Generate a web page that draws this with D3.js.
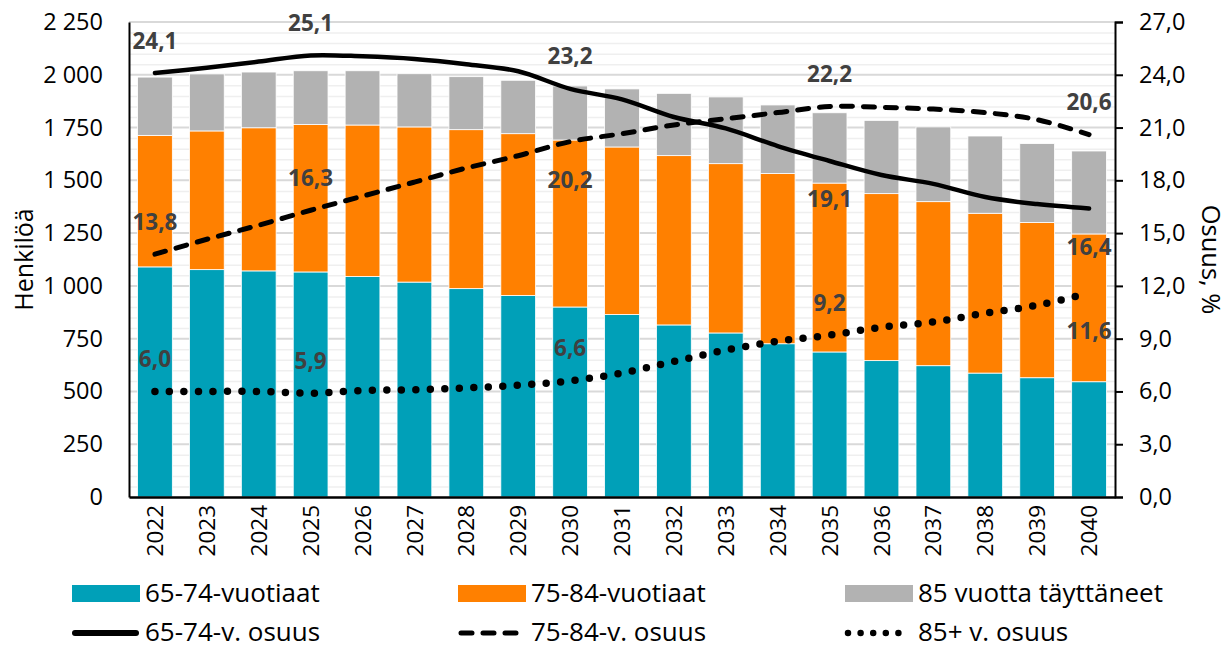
<!DOCTYPE html>
<html lang="fi">
<head>
<meta charset="UTF-8" />
<title>Ikääntyneet 2022–2040</title>
<script src="https://d3js.org/d3.v7.min.js"></script>
<style>
  body { margin: 0; background: #fff; }
  svg { font-family: "Open Sans", sans-serif; }
</style>
</head>
<body>
<svg width="1231" height="650"></svg>
<script>
// data
const years = [2022, 2023, 2024, 2025, 2026, 2027, 2028, 2029, 2030, 2031,
               2032, 2033, 2034, 2035, 2036, 2037, 2038, 2039, 2040];
const age6574 = [1090, 1077, 1071, 1066, 1044, 1018, 987, 954, 900, 864,
                 815, 777, 726, 687, 646, 622, 587, 565, 546];
const age7584 = [623, 657, 678, 698, 718, 735, 753, 767, 791, 794,
                 802, 802, 806, 800, 791, 777, 757, 735, 700];
const age85 = [276, 270, 264, 255, 257, 252, 251, 253, 256, 275,
               295, 316, 325, 333, 347, 354, 366, 374, 393];
const share6574 = [24.1, 24.4, 24.75, 25.1, 25.05, 24.9, 24.6, 24.2, 23.2, 22.6,
                   21.6, 20.95, 19.95, 19.1, 18.3, 17.8, 17.05, 16.65, 16.4];
const share7584 = [13.8, 14.65, 15.45, 16.3, 17.1, 17.9, 18.7, 19.4, 20.2, 20.65,
                   21.15, 21.5, 21.85, 22.2, 22.15, 22.05, 21.85, 21.45, 20.6];
const share85 = [6.0, 6.0, 6.0, 5.9, 6.05, 6.1, 6.2, 6.35, 6.6, 7.05,
                 7.7, 8.35, 8.85, 9.2, 9.65, 9.95, 10.45, 10.9, 11.6];
const leftTicks = d3.range(0, 2251, 250);
const rightTicks = d3.range(0, 27.01, 3);
const minorTicks = d3.range(0, 2251, 50);

const barSeries = [
  { name: "65-74-vuotiaat", values: age6574, color: "#00A0B8" },
  { name: "75-84-vuotiaat", values: age7584, color: "#FF8000" },
  { name: "85 vuotta täyttäneet", values: age85, color: "#B2B2B2" }
];
const lineSeries = [
  { name: "65-74-v. osuus", values: share6574, dash: null, width: 4.5 },
  { name: "75-84-v. osuus", values: share7584, dash: "11 11", width: 5 },
  { name: "85+ v. osuus", values: share85, dash: "0 14.5", width: 7.5 }
];
// which points get a value label, and whether it sits under the line
const labelled = [
  [0, 2022, false], [0, 2025, false], [0, 2030, false], [0, 2035, true], [0, 2040, true],
  [1, 2022, false], [1, 2025, false], [1, 2030, true], [1, 2035, false], [1, 2040, false],
  [2, 2022, false], [2, 2025, false], [2, 2030, false], [2, 2035, false], [2, 2040, true]
];

const svg = d3.select("svg");
const margin = { top: 22, right: 116, bottom: 153, left: 129 };
const W = 1231, H = 650;
const plotW = W - margin.left - margin.right;
const plotH = H - margin.top - margin.bottom;

const fi = d3.formatLocale({ decimal: ",", thousands: "\u00a0", grouping: [3], currency: ["", " €"] });
const fmtLeft = fi.format(",");
const fmtRight = fi.format(".1f");

const x = d3.scaleBand().domain(years).range([0, plotW]).paddingInner(0.33).paddingOuter(0.165);
const yL = d3.scaleLinear().domain([0, 2250]).range([plotH, 0]);
const yR = d3.scaleLinear().domain([0, 27]).range([plotH, 0]);

const g = svg.append("g").attr("transform", `translate(${margin.left},${margin.top})`);

// gridlines
g.append("g").selectAll("line").data(minorTicks.filter(d => d % 250 !== 0)).join("line")
  .attr("x1", 0).attr("x2", plotW)
  .attr("y1", d => yL(d) + 0.5).attr("y2", d => yL(d) + 0.5)
  .attr("stroke", "#efefef").attr("stroke-width", 1.5);
g.append("g").selectAll("line").data(leftTicks.filter(d => d > 0)).join("line")
  .attr("x1", 0).attr("x2", plotW)
  .attr("y1", d => yL(d)).attr("y2", d => yL(d))
  .attr("stroke", "#d9d9d9").attr("stroke-width", 2);

// stacked bars
const stackData = years.map((yr, i) => ({ year: yr, a: age6574[i], b: age7584[i], c: age85[i] }));
const stacked = d3.stack().keys(["a", "b", "c"])(stackData);
g.append("g").selectAll("g").data(stacked).join("g")
  .attr("fill", (d, i) => barSeries[i].color)
  .selectAll("rect").data(d => d).join("rect")
  .attr("x", d => x(d.data.year))
  .attr("width", x.bandwidth())
  .attr("y", d => yL(d[1]))
  .attr("height", d => yL(d[0]) - yL(d[1]))
  .attr("stroke", "#ffffff").attr("stroke-width", 0.8);

// share lines
const line = d3.line()
  .x((d, i) => x(years[i]) + x.bandwidth() / 2)
  .y(d => yR(d))
  .curve(d3.curveCatmullRom.alpha(0.5));

lineSeries.forEach(s => {
  g.append("path")
    .attr("d", line(s.values))
    .attr("fill", "none")
    .attr("stroke", "#000")
    .attr("stroke-width", s.width)
    .attr("stroke-linecap", "round")
    .attr("stroke-linejoin", "round")
    .attr("stroke-dasharray", s.dash);
});

// value labels
g.append("g").selectAll("text").data(labelled).join("text")
  .attr("x", d => x(d[1]) + x.bandwidth() / 2)
  .attr("y", d => {
    const v = lineSeries[d[0]].values[years.indexOf(d[1])];
    return yR(v) + (d[2] ? 38 : -33);
  })
  .attr("text-anchor", "middle")
  .attr("dominant-baseline", "central")
  .attr("font-size", 22.5).attr("font-weight", 700).attr("fill", "#404040")
  .text(d => fmtRight(lineSeries[d[0]].values[years.indexOf(d[1])]));

// axes
const axLeft = g.append("g")
  .call(d3.axisLeft(yL).tickValues(leftTicks).tickSize(0).tickPadding(26).tickFormat(fmtLeft));
axLeft.select(".domain").attr("stroke", "#000").attr("stroke-width", 2);
axLeft.selectAll("text").attr("font-size", 23.5).attr("fill", "#000").attr("font-family", "Open Sans");

const axRight = g.append("g").attr("transform", `translate(${plotW},0)`)
  .call(d3.axisRight(yR).tickValues(rightTicks).tickSize(8).tickSizeOuter(8).tickPadding(16).tickFormat(fmtRight));
axRight.select(".domain").attr("stroke", "#000").attr("stroke-width", 2);
axRight.selectAll(".tick line").attr("stroke", "#000").attr("stroke-width", 2);
axRight.selectAll("text").attr("font-size", 23.5).attr("fill", "#000").attr("font-family", "Open Sans");

const axBottom = g.append("g").attr("transform", `translate(0,${plotH})`)
  .call(d3.axisBottom(x).tickSize(0).tickSizeOuter(0));
axBottom.select(".domain").attr("stroke", "#000").attr("stroke-width", 2.5);
axBottom.selectAll("text")
  .attr("font-size", 22.5).attr("fill", "#000").attr("font-family", "Open Sans")
  .attr("transform", "rotate(-90)")
  .attr("text-anchor", "end")
  .attr("x", -8).attr("y", 0).attr("dy", "0.36em");

// axis titles
svg.append("text")
  .attr("transform", `translate(23,${margin.top + plotH / 2}) rotate(-90)`)
  .attr("text-anchor", "middle").attr("dominant-baseline", "central")
  .attr("font-size", 25).attr("fill", "#000").text("Henkilöä");
svg.append("text")
  .attr("transform", `translate(1212,${margin.top + plotH / 2}) rotate(90)`)
  .attr("text-anchor", "middle").attr("dominant-baseline", "central")
  .attr("font-size", 25.5).attr("fill", "#000").text("Osuus, %");

// legend
const legendCols = [72, 458, 845];
const leg = svg.append("g");
barSeries.forEach((s, i) => {
  leg.append("rect").attr("x", legendCols[i]).attr("y", 585).attr("width", 68).attr("height", 17)
    .attr("fill", s.color);
  leg.append("text").attr("x", legendCols[i] + 73).attr("y", 592)
    .attr("dominant-baseline", "central").attr("font-size", 26).attr("fill", "#000").text(s.name);
});
lineSeries.forEach((s, i) => {
  leg.append("line").attr("x1", legendCols[i] + 3).attr("x2", legendCols[i] + (i === 2 ? 66 : 64))
    .attr("y1", 633).attr("y2", 633)
    .attr("stroke", "#000").attr("stroke-width", i === 0 ? 6 : i === 2 ? 6.5 : s.width)
    .attr("stroke-linecap", "round")
    .attr("stroke-dasharray", i === 2 ? "0 12.6" : s.dash);
  leg.append("text").attr("x", legendCols[i] + 73).attr("y", 631)
    .attr("dominant-baseline", "central").attr("font-size", 26).attr("fill", "#000").text(s.name);
});
</script>
</body>
</html>
